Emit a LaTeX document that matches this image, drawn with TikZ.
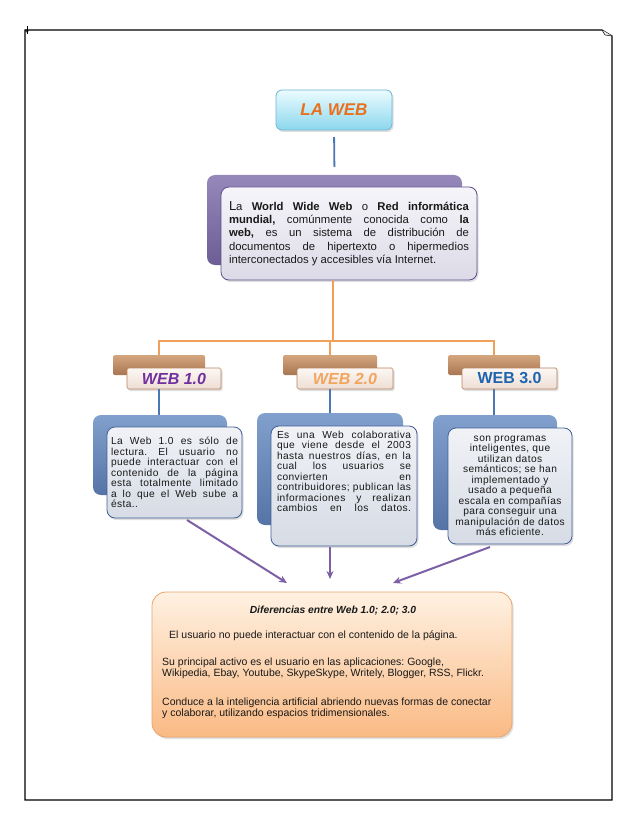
\documentclass[tikz,border=0pt]{standalone}
\usepackage{fontspec}
\setmainfont{Liberation Sans}
\newfontfamily\spacedfont[LetterSpace=4]{Liberation Sans}
\usetikzlibrary{shadows,arrows.meta,calc}
\frenchspacing
\definecolor{cyanT}{RGB}{235,252,254}
\definecolor{cyanB}{RGB}{140,215,238}
\definecolor{cyanD}{RGB}{110,180,215}
\definecolor{lawebC}{RGB}{232,112,30}
\definecolor{purT}{RGB}{150,136,186}
\definecolor{purB}{RGB}{108,94,148}
\definecolor{purD}{RGB}{96,76,140}
\definecolor{lavT}{RGB}{246,245,250}
\definecolor{lavB}{RGB}{220,218,230}
\definecolor{brT}{RGB}{212,166,126}
\definecolor{brB}{RGB}{168,118,82}
\definecolor{lblT}{RGB}{252,247,243}
\definecolor{lblB}{RGB}{238,222,212}
\definecolor{lblD}{RGB}{185,130,95}
\definecolor{bluT}{RGB}{130,160,205}
\definecolor{bluB}{RGB}{85,115,165}
\definecolor{bluD}{RGB}{65,95,150}
\definecolor{gryT}{RGB}{240,242,246}
\definecolor{gryB}{RGB}{214,219,229}
\definecolor{orT}{RGB}{255,241,226}
\definecolor{orB}{RGB}{250,186,132}
\definecolor{orD}{RGB}{230,165,110}
\definecolor{orL}{RGB}{240,160,90}
\definecolor{blL}{RGB}{75,120,180}
\definecolor{puL}{RGB}{125,95,165}
\definecolor{wA}{RGB}{112,48,160}
\definecolor{wB}{RGB}{242,165,95}
\definecolor{wC}{RGB}{30,100,175}
\definecolor{txt}{RGB}{25,25,25}
\tikzset{
  bx/.style={inner sep=0pt, outer sep=0pt},
  shad/.style={drop shadow={shadow xshift=1.5pt, shadow yshift=-2pt, opacity=0.25}},
  mainback/.style={bx, rounded corners=8pt, top color=purT, bottom color=purB},
  mainfront/.style={bx, shad, rounded corners=8pt, draw=purD, line width=0.8pt, top color=lavT, bottom color=lavB, text=txt},
  lblback/.style={bx, rounded corners=1.5pt, top color=brT, bottom color=brB, minimum height=20pt},
  lblfront/.style={bx, shad, rounded corners=1.5pt, draw=lblD, line width=0.7pt, top color=lblT, bottom color=lblB, minimum height=21pt, font=\fontsize{16}{18}\selectfont\bfseries},
  cback/.style={bx, rounded corners=8pt, top color=bluT, bottom color=bluB},
  cfront/.style={bx, shad, rounded corners=8pt, draw=bluD, line width=0.8pt, top color=gryT, bottom color=gryB, text=txt, font=\spacedfont\fontsize{10.2}{10.5}\selectfont},
  orline/.style={draw=orL, line width=1.8pt},
  blline/.style={draw=blL, line width=1.8pt},
  parrow/.style={draw=puL, line width=2pt, -{Stealth[length=8pt,width=7pt]}},
  btext/.style={anchor=base west, inner sep=0pt, text=txt, font=\fontsize{10.5}{11.5}\selectfont}
}
\begin{document}
\frenchspacing
\begin{tikzpicture}[x=1pt,y=-1pt]
\useasboundingbox (0,0) rectangle (638,826);
% page frame
\draw[line width=1.1pt] (25,30) -- (602,30) -- (612,36) -- (612,800) -- (25,800) -- cycle;
\draw[line width=0.5pt, fill=gray!15] (602,30) -- (605,35) -- (612,36);
\draw[line width=0.7pt] (27,26) -- (27,34);
\draw[line width=0.6pt] (27,31) circle (1.3pt);

% LA WEB
\node[bx, shad, rounded corners=6pt, draw=cyanD, line width=0.8pt, top color=cyanT, bottom color=cyanB,
  minimum width=116pt, minimum height=40pt, text=lawebC,
  font=\fontsize{17}{20}\selectfont\bfseries\itshape] (laweb) at (334,110) {LA WEB};

% main definition box
\node[mainback, minimum width=255pt, minimum height=90pt] (mainb) at (334.5,220) {};
\node[mainfront, minimum width=256pt, minimum height=93pt, text width=240pt, align=justify,
  font=\fontsize{11.3}{13.3}\selectfont] (mainf) at (349,233.5)
  {{\fontsize{13}{13.3}\selectfont L}a \textbf{World Wide Web} o \textbf{Red informática}\linebreak
   \textbf{mundial,} comúnmente conocida como \textbf{la}\linebreak
   \textbf{web,} es un sistema de distribución de\linebreak
   documentos de hipertexto o hipermedios\linebreak
   interconectados y accesibles vía Internet.};

% labels
\node[lblback, minimum width=92pt] (lb1) at (159,365) {};
\node[lblback, minimum width=94pt] (lb2) at (330,365) {};
\node[lblback, minimum width=92pt] (lb3) at (494,365) {};
\node[lblfront, minimum width=94pt, text=wA] (lf1) at (174,378.5) {\itshape WEB 1.0};
\node[lblfront, minimum width=96pt, text=wB] (lf2) at (345,378.5) {\itshape WEB 2.0};
\node[lblfront, minimum width=95pt, text=wC] (lf3) at (509.5,378.5) {WEB 3.0};

% content boxes
\node[cback, minimum width=134pt, minimum height=80pt] (cb1) at (160,455) {};
\node[cback, minimum width=146pt, minimum height=112pt] (cb2) at (330,469) {};
\node[cback, minimum width=124pt, minimum height=115pt] (cb3) at (495,472.5) {};

\node[cfront, minimum width=135pt, minimum height=91pt, text width=127pt, align=justify] (cf1) at (174.5,472.5)
  {La Web 1.0 es sólo de\linebreak
   lectura. El usuario no\linebreak
   puede interactuar con el\linebreak
   contenido de la página\linebreak
   esta totalmente limitado\linebreak
   a lo que el Web sube a\linebreak
   ésta..};
\node[cfront, minimum width=146pt, minimum height=120pt] (cf2) at (344,486)
  {\parbox[c][110pt][t]{134pt}{\parfillskip=0pt
   Es una Web colaborativa\linebreak
   que viene desde el 2003\linebreak
   hasta nuestros días, en la\linebreak
   cual los usuarios se\linebreak
   convierten en\linebreak
   contribuidores; publican las\linebreak
   informaciones y realizan\linebreak
   cambios en los datos.}};
\node[cfront, minimum width=124pt, minimum height=116pt, align=center] (cf3) at (510,486)
  {son programas\\ inteligentes, que\\ utilizan datos\\ semánticos; se han\\ implementado y\\
   usado a pequeña\\ escala en compañías\\ para conseguir una\\ manipulación de datos\\ más eficiente.};

% bottom box
\node[bx, shad, rounded corners=14pt, draw=orD, line width=0.8pt, top color=orT, bottom color=orB,
  minimum width=360pt, minimum height=145pt] (diff) at (332,664.5) {};
\node[anchor=base, inner sep=0pt, text=txt, font=\fontsize{10.3}{11.5}\selectfont\bfseries\itshape] (t0) at (333,613.5)
  {Diferencias entre Web 1.0; 2.0; 3.0};
\node[btext] (t1) at (169,638.5) {El usuario no puede interactuar con el contenido de la página.};
\node[btext] (t2) at (162,665) {Su principal activo es el usuario en las aplicaciones: Google,};
\node[btext] (t3) at (162,676.5) {Wikipedia, Ebay, Youtube, SkypeSkype, Writely, Blogger, RSS, Flickr.};
\node[btext] (t4) at (162,705) {Conduce a la inteligencia artificial abriendo nuevas formas de conectar};
\node[btext] (t5) at (162,716.5) {y colaborar, utilizando espacios tridimensionales.};

% connectors
\draw[blline, shorten <=7pt, shorten >=8pt] (laweb.south) -- (mainb.north);
\coordinate (bus) at (333,341);
\draw[orline] (bus |- mainf.south) -- (bus);
\draw[orline] (lb1.north) |- (bus) -| (lb3.north);
\draw[orline] (lb2.north) -- (lb2.north |- bus);
\draw[blline] (lb1.north |- lf1.south) -- (lb1.north |- cb1.north);
\draw[blline] (lb2.north |- lf2.south) -- (lb2.north |- cb2.north);
\draw[blline] (lb3.north |- lf3.south) -- (lb3.north |- cb3.north);

\coordinate (e1) at (287,583);
\coordinate (e2) at (330,579);
\coordinate (e3) at (393,583);
\draw[parrow] ($(cf1.south)+(12.5,2)$) -- (e1);
\draw[parrow] ($(cf2.south)+(-14,1)$) -- (e2);
\draw[parrow] ($(cf3.south)+(-20,3)$) -- (e3);
\end{tikzpicture}
\end{document}
